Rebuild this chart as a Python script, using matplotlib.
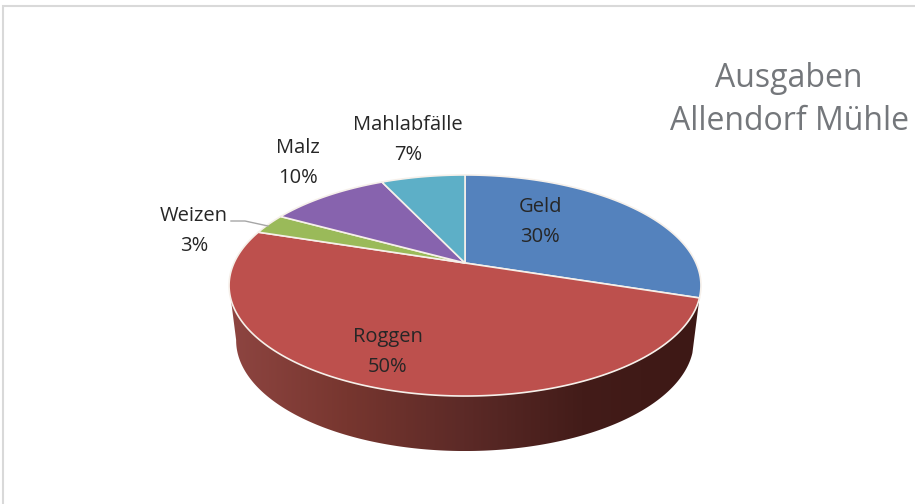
import numpy as np
import matplotlib
matplotlib.use("Agg")
import matplotlib.pyplot as plt
from matplotlib.patches import Polygon
from matplotlib.colors import LinearSegmentedColormap

plt.rcParams['font.family'] = ['Open Sans', 'DejaVu Sans']

# data
labels = ["Geld", "Roggen", "Weizen", "Malz", "Mahlabfälle"]
values = [30, 50, 3, 10, 7]
colors = ["#5482bd", "#bd504d", "#9aba59", "#8763ae", "#5dafc7"]
title_lines = ["Ausgaben", "Allendorf Mühle"]

W, H = 915, 504
# pie centre and perspective of the tilted disc, in pixels
CX, CY = 465, 263
K = 231
TILT = 0.2036
YSCALE = -52.4
DEPTH = 55
SHRINK = 0.97


def project(deg, scale=1.0, drop=0):
    # deg runs clockwise from 12 o'clock
    a = np.radians(deg)
    xp, yp = np.sin(a), np.cos(a)
    d = 1 + TILT * yp
    return CX + scale * K * xp / d, (CY + YSCALE * yp) / d + drop


fig = plt.figure(figsize=(W / 100, H / 100), dpi=100)
ax = fig.add_axes([0, 0, 1, 1])
ax.set_xlim(0, W)
ax.set_ylim(H, 0)
ax.axis("off")

# only the top and left of the chart frame are in the picture
ax.plot([3, 3, W], [H, 6, 6], color="#d9d9d9", lw=1.5, solid_joinstyle="miter")

# slice boundaries from the values
edges = np.concatenate([[0], np.cumsum(values)]) * 360 / np.sum(values)

# rim of the front slice (Roggen)
arc = np.linspace(edges[1], edges[2], 300)
tx, ty = project(arc)
bx, by = project(arc, SHRINK, DEPTH)
i_t, i_b = tx.argmin() + 1, bx.argmin() + 1
side = np.vstack([np.c_[tx[:i_t], ty[:i_t]], np.c_[bx[:i_b], by[:i_b]][::-1]])
rim = Polygon(side, closed=True, fc="none", ec="none")
ax.add_patch(rim)
cmap = LinearSegmentedColormap.from_list(
    "rim", ["#8e4541", "#77362f", "#5c2a27", "#431c19", "#3d1815"])
im = ax.imshow(np.linspace(0, 1, 256).reshape(1, -1), cmap=cmap, aspect="auto",
               extent=[side[:, 0].min(), side[:, 0].max(), side[:, 1].max(), side[:, 1].min()],
               zorder=2)
im.set_clip_path(rim)
ax.set_xlim(0, W)
ax.set_ylim(H, 0)

# top of the slices
for start, end, col in zip(edges[:-1], edges[1:], colors):
    x, y = project(np.linspace(start, end, 200))
    pts = np.vstack([[CX, CY], np.c_[x, y]])
    ax.add_patch(Polygon(pts, closed=True, fc=col, ec="#f6f0ea", lw=1.2, zorder=3))

# labels
label_xy = {"Geld": (540, 222), "Roggen": (388, 352), "Weizen": (194, 231),
            "Malz": (298, 163), "Mahlabfälle": (408, 140)}
for name, val in zip(labels, values):
    lx, ly = label_xy[name]
    ax.text(lx, ly, f"{name}\n{val}%", ha="center", va="center", fontsize=14.5,
            color="#262626", linespacing=1.65, zorder=4)

# leader line to Weizen
ax.plot([231, 245, 268], [221, 221, 226], color="#a6a6a6", lw=1, zorder=4)

ax.text(789, 100, "\n".join(title_lines), ha="center", va="center", fontsize=23,
        color="#74777b", linespacing=1.42, zorder=4)

fig.savefig("out.png", dpi=100)
